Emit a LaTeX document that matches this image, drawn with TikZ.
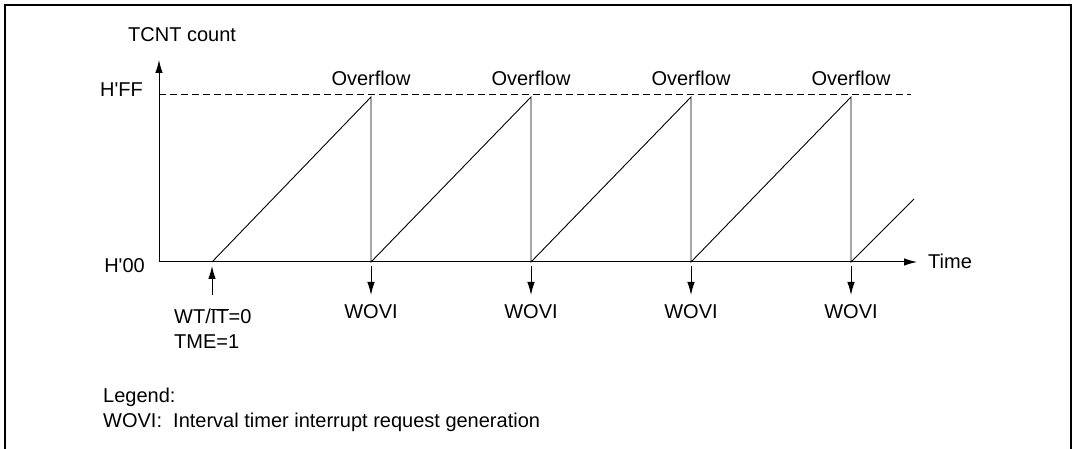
\documentclass[tikz,border=0pt]{standalone}
\usepackage{fontspec}
\setmainfont{Liberation Sans}
\usetikzlibrary{arrows.meta}

\tikzset{
    axisline/.style={line width=1pt, -{Latex[length=13pt,width=7.5pt]}},
    pulse/.style={line width=1pt, -{Latex[length=13pt,width=7.5pt]}},
    lbl/.style={font=\fontsize{20}{25}\selectfont, inner sep=0pt},
}

\begin{document}
\begin{tikzpicture}[x=1pt, y=1pt]
    \useasboundingbox (-159,-187) rectangle (916,262);

    % Frame (open at the bottom)
    \draw[line width=2pt] (-154,-187) -- (-154,257) -- (912,257) -- (912,-187);

    % Axes
    \coordinate (O) at (0,0);
    \coordinate (ytop) at (0,202);
    \coordinate (xend) at (758,0);
    \draw[axisline] (O) -- (ytop);
    \draw[axisline] (O) -- (xend);
    \node[lbl, anchor=base west] (ylabel) at (-31,220) {TCNT count};
    \node[lbl, anchor=base west] (time) at (769,-7) {Time};
    \node[lbl, anchor=base east] (hff) at (-16,165) {H\textquotesingle FF};
    \node[lbl, anchor=base east] (hzero) at (-14,-11) {H\textquotesingle 00};

    % H'FF level
    \draw[line width=0.8pt, dash pattern=on 7pt off 4pt] (0,168) -- (752,168);

    % Counter ramps
    \coordinate (start) at (53,-4);
    \draw[line width=0.9pt] (53,0) -- (212,165) -- (212,0) -- (372,165) -- (372,0)
        -- (532,165) -- (532,0) -- (692,165) -- (692,0) -- (755,63);

    % Overflow and interrupt at each drop
    \coordinate (tipy) at (0,-33);
    \foreach \i/\x in {1/212, 2/372, 3/532, 4/692} {
        \node[lbl, anchor=base] (ovf\i) at (\x,176) {Overflow};
        \coordinate (drop\i) at (\x,-4);
        \draw[pulse] (drop\i) -- (drop\i |- tipy);
        \node[lbl, anchor=base] (wovi\i) at (\x,-57) {WOVI};
    }

    % Timer start
    \draw[pulse] (start |- tipy) -- (start);
    \node[lbl, anchor=base west] (wtit) at (15,-62) {WT/$\overline{\mbox{IT}}$=0};
    \node[lbl, anchor=base west] (tme) at (15,-87) {TME=1};

    % Legend
    \node[lbl, anchor=base west] (legend) at (-56,-140) {Legend:};
    \node[lbl, anchor=base west] (legwovi) at (-56,-165) {WOVI:\ \ Interval timer interrupt request generation};
\end{tikzpicture}
\end{document}
